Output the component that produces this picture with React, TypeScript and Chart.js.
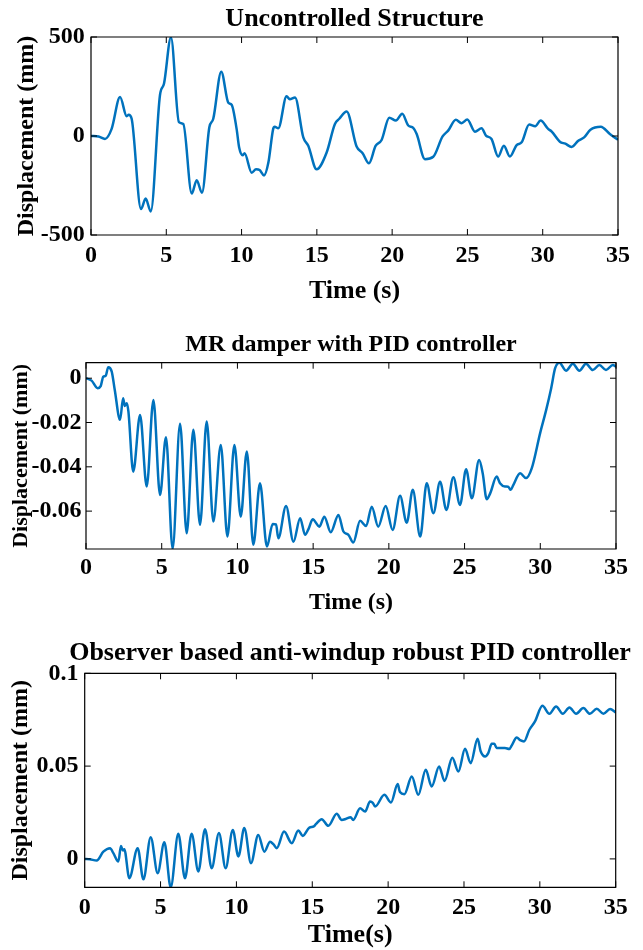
import React, { useEffect, useRef } from 'react';
import { Chart, registerables } from 'chart.js';

Chart.register(...registerables);

const FONT = "'Liberation Serif', 'Times New Roman', Times, serif";
const LINE_COLOR = '#0072BD';

// ---------- Data ----------
const X_TICKS = [0, 5, 10, 15, 20, 25, 30, 35];
const X_LABELS = ['0', '5', '10', '15', '20', '25', '30', '35'];

// Panel 1: Uncontrolled structure
const T1 = [0, 0.5, 0.93, 1.37, 1.93, 2.37, 2.5, 2.7, 3.32, 3.63, 3.97, 4.58, 4.85, 5.31, 5.84, 6.13, 6.69, 7.02, 7.37, 7.86, 8.12, 8.65, 9.12, 9.34, 9.67, 9.84, 10.07, 10.2, 10.67, 10.96, 11.2, 11.49, 11.78, 12.1, 12.2, 12.44, 12.99, 13.2, 13.55, 14.1, 14.43, 14.98, 15.65, 16.2, 16.49, 16.98, 17.64, 18.04, 18.46, 18.9, 19.3, 19.81, 20.25, 20.67, 21.07, 21.4, 21.63, 22.18, 22.73, 23.35, 23.72, 24.23, 24.61, 24.99, 25.5, 25.94, 26.23, 26.6, 27.04, 27.42, 27.82, 28.27, 28.6, 29.1, 29.5, 29.86, 30.36, 30.6, 31.14, 31.5, 31.92, 32.36, 32.75, 33.17, 33.86, 34.46, 35];
const D1 = [0, -3, -15, 36, 197, 100, 107, 87, -369, -316, -381, 206, 265, 498, 70, 61, -291, -223, -287, 44, 87, 325, 168, 158, 36, -58, -97, -87, -185, -168, -172, -199, -134, 36, 47, 39, 201, 185, 194, -7, -49, -168, -83, 61, 87, 124, -53, -87, -138, -50, -20, 92, 78, 112, 53, 41, 10, -117, -105, -2, 27, 82, 65, 83, 22, 39, 2, -15, -104, -49, -104, -46, -32, 58, 49, 78, 36, 22, -29, -39, -55, -24, -7, 32, 47, 10, -19];
const Y1_TICKS = [-500, 0, 500];
const Y1_LABELS = ['-500', '0', '500'];

// Panel 2: MR damper with PID controller
const T2 = [0, 0.37, 0.77, 0.97, 1.14, 1.3, 1.47, 1.7, 1.9, 2.25, 2.45, 2.56, 2.69, 2.8, 3.12, 3.57, 4.01, 4.45, 4.89, 5.28, 5.72, 6.21, 6.65, 7.09, 7.53, 7.97, 8.41, 8.9, 9.34, 9.8, 10.22, 10.62, 11.05, 11.49, 11.95, 12.33, 12.55, 12.7, 13.21, 13.7, 14.14, 14.47, 14.7, 14.97, 15.41, 15.74, 16.16, 16.67, 17.0, 17.33, 17.65, 18.1, 18.5, 18.87, 19.3, 19.79, 20.25, 20.74, 21.18, 21.58, 22.07, 22.5, 22.94, 23.38, 23.8, 24.26, 24.7, 25.1, 25.48, 25.96, 26.2, 26.46, 26.69, 27.12, 27.34, 27.67, 27.88, 28.05, 28.2, 28.67, 29.06, 29.44, 29.99, 30.39, 30.72, 30.98, 31.26, 31.7, 32.15, 32.58, 33.02, 33.47, 33.9, 34.34, 34.79, 35];
const D2 = [0, -0.0011, -0.0045, -0.0036, 0.0007, 0.0011, 0.005, 0.003, -0.0053, -0.0188, -0.009, -0.0125, -0.0113, -0.015, -0.0422, -0.0166, -0.0489, -0.0098, -0.0527, -0.0266, -0.0771, -0.0206, -0.07, -0.0233, -0.0662, -0.0196, -0.0647, -0.0301, -0.0715, -0.0301, -0.0625, -0.0331, -0.0752, -0.0474, -0.076, -0.0658, -0.066, -0.0722, -0.0577, -0.0738, -0.0632, -0.0707, -0.068, -0.0637, -0.067, -0.0625, -0.0695, -0.0617, -0.0692, -0.0707, -0.0742, -0.0644, -0.0667, -0.058, -0.067, -0.0577, -0.0685, -0.0531, -0.0652, -0.0504, -0.0715, -0.0474, -0.061, -0.0467, -0.0595, -0.0447, -0.0572, -0.0411, -0.0542, -0.0369, -0.043, -0.0546, -0.052, -0.0444, -0.0474, -0.0489, -0.049, -0.0504, -0.0485, -0.0429, -0.0451, -0.0406, -0.0248, -0.0143, -0.0045, 0.0045, 0.007, 0.0034, 0.0065, 0.0034, 0.0065, 0.0037, 0.006, 0.0037, 0.006, 0.0052];
const Y2_TICKS = [-0.06, -0.04, -0.02, 0];
const Y2_LABELS = ['-0.06', '-0.04', '-0.02', '0'];

// Panel 3: Observer based anti-windup robust PID controller
const T3 = [0, 0.34, 0.79, 1.23, 1.67, 1.89, 2.22, 2.39, 2.52, 2.61, 2.94, 3.49, 3.87, 4.35, 4.81, 5.25, 5.67, 6.17, 6.61, 7.05, 7.49, 7.93, 8.37, 8.85, 9.29, 9.76, 10.13, 10.52, 10.96, 11.44, 11.84, 12.22, 12.45, 12.66, 13.14, 13.65, 14.08, 14.37, 14.81, 15.1, 15.25, 15.62, 16.06, 16.61, 16.94, 17.2, 17.53, 17.7, 18.15, 18.48, 18.81, 18.99, 19.14, 19.75, 20.19, 20.63, 20.78, 21.07, 21.56, 21.99, 22.48, 22.87, 23.36, 23.72, 24.23, 24.63, 25.07, 25.44, 25.9, 26.1, 26.39, 26.6, 26.83, 27.0, 27.15, 27.7, 27.99, 28.14, 28.48, 28.7, 28.96, 29.31, 29.68, 30.17, 30.63, 31.07, 31.51, 31.95, 32.39, 32.87, 33.3, 33.75, 34.19, 34.63, 35];
const D3 = [0, -0.0002, -0.0009, 0.0039, 0.0058, 0.0031, -0.0014, 0.007, 0.0045, 0.0052, -0.0104, 0.0058, -0.011, 0.0117, -0.0077, 0.009, -0.0153, 0.0135, -0.0104, 0.0135, -0.0068, 0.016, -0.005, 0.0139, -0.005, 0.0156, 0.0013, 0.0166, -0.0023, 0.0129, 0.0039, 0.0093, 0.0078, 0.0058, 0.0147, 0.0085, 0.0153, 0.0124, 0.0169, 0.0175, 0.0189, 0.0214, 0.0178, 0.0243, 0.021, 0.0215, 0.0225, 0.021, 0.0273, 0.0255, 0.0309, 0.0302, 0.0282, 0.0345, 0.0304, 0.0403, 0.036, 0.0349, 0.0444, 0.0345, 0.048, 0.039, 0.0498, 0.042, 0.0545, 0.0471, 0.0593, 0.0516, 0.0647, 0.058, 0.0552, 0.057, 0.062, 0.062, 0.0598, 0.0598, 0.0592, 0.061, 0.0654, 0.064, 0.0633, 0.0696, 0.0741, 0.0825, 0.0782, 0.0821, 0.0782, 0.0816, 0.0782, 0.0813, 0.0782, 0.0809, 0.0782, 0.0807, 0.0789];
const Y3_TICKS = [0, 0.05, 0.1];
const Y3_LABELS = ['0', '0.05', '0.1'];

// ---------- Panel specs (layout only) ----------
type Spec = {
  top: number; height: number; plotRight: number;
  title: string; titleSize: number; titlePadTop: number; titlePadBottom: number;
  yWidth: number; xHeight: number;
  xTitle: string; xTitleSize: number; xTitlePadBottom: number; xTickPad: number;
  yTitleSize: number; yTitlePadTop: number; yTickPad: number; tickSize: number;
  yMin: number; yMax: number;
  t: number[]; d: number[]; yTicks: number[]; yLabels: string[];
};

const SPECS: Spec[] = [
  { top: 0, height: 310, plotRight: 618,
    title: 'Uncontrolled Structure', titleSize: 26, titlePadTop: 3.9, titlePadBottom: 1.9,
    yWidth: 91, xHeight: 75,
    xTitle: 'Time (s)', xTitleSize: 26, xTitlePadBottom: 2.9, xTickPad: 6.4,
    yTitleSize: 24, yTitlePadTop: 12.6, yTickPad: 6.3, tickSize: 24,
    yMin: -500, yMax: 500, t: T1, d: D1, yTicks: Y1_TICKS, yLabels: Y1_LABELS },
  { top: 310, height: 310, plotRight: 616,
    title: 'MR damper with PID controller', titleSize: 24, titlePadTop: 20.4, titlePadBottom: 3.5,
    yWidth: 86, xHeight: 71,
    xTitle: 'Time (s)', xTitleSize: 24, xTitlePadBottom: 2.8, xTickPad: 4.4,
    yTitleSize: 22, yTitlePadTop: 7.8, yTickPad: 4.5, tickSize: 24,
    yMin: -0.0771, yMax: 0.007, t: T2, d: D2, yTicks: Y2_TICKS, yLabels: Y2_LABELS },
  { top: 620, height: 335, plotRight: 615.7,
    title: 'Observer based anti-windup robust PID controller', titleSize: 26, titlePadTop: 17.3, titlePadBottom: 4.8,
    yWidth: 84.7, xHeight: 67.7,
    xTitle: 'Time(s)', xTitleSize: 26, xTitlePadBottom: 4.2, xTickPad: 6.1,
    yTitleSize: 24, yTitlePadTop: 6.6, yTickPad: 6.2, tickSize: 24,
    yMin: -0.0153, yMax: 0.1, t: T3, d: D3, yTicks: Y3_TICKS, yLabels: Y3_LABELS },
];

const framePlugin = {
  id: 'matlabFrame',
  afterDatasetsDraw(chart: any) {
    const { ctx, chartArea, scales } = chart;
    const { left, right, top, bottom } = chartArea;
    const L = 6;
    ctx.save();
    ctx.strokeStyle = '#000';
    ctx.lineWidth = 1.2;
    ctx.beginPath();
    ctx.rect(left, top, right - left, bottom - top);
    ctx.stroke();
    ctx.lineWidth = 1;
    ctx.beginPath();
    scales.x.ticks.forEach((tk: any) => {
      const px = scales.x.getPixelForValue(tk.value);
      ctx.moveTo(px, bottom); ctx.lineTo(px, bottom - L);
      ctx.moveTo(px, top); ctx.lineTo(px, top + L);
    });
    scales.y.ticks.forEach((tk: any) => {
      const py = scales.y.getPixelForValue(tk.value);
      ctx.moveTo(left, py); ctx.lineTo(left + L, py);
      ctx.moveTo(right, py); ctx.lineTo(right - L, py);
    });
    ctx.stroke();
    ctx.restore();
  },
};

function Panel({ spec }: { spec: Spec }) {
  const ref = useRef<HTMLCanvasElement | null>(null);
  // canvas extends to the right so that the full-width title is centred over the plot
  const canvasWidth = Math.round(spec.plotRight + spec.yWidth);
  useEffect(() => {
    if (!ref.current) return;
    Chart.defaults.color = '#000';
    Chart.defaults.font.family = FONT;
    const data = spec.t.map((t, i) => ({ x: t, y: spec.d[i] }));
    const rightW = canvasWidth - spec.plotRight;
    const chart = new Chart(ref.current, {
      type: 'line',
      data: {
        datasets: [{
          data,
          xAxisID: 'x',
          yAxisID: 'y',
          borderColor: LINE_COLOR,
          borderWidth: 2.5,
          pointRadius: 0,
          fill: false,
          cubicInterpolationMode: 'monotone',
        }],
      },
      options: {
        animation: false,
        responsive: false,
        devicePixelRatio: 1,
        events: [],
        layout: { padding: 0 },
        plugins: {
          legend: { display: false },
          tooltip: { enabled: false },
          title: {
            display: true,
            text: spec.title,
            color: '#000',
            font: { family: FONT, size: spec.titleSize, weight: 'bold' },
            padding: { top: spec.titlePadTop, bottom: spec.titlePadBottom },
          },
        },
        scales: {
          x: {
            type: 'linear',
            position: 'bottom',
            min: 0,
            max: 35,
            grid: { display: false, drawTicks: false },
            border: { display: false },
            afterBuildTicks: (s: any) => { s.ticks = X_TICKS.map((v) => ({ value: v })); },
            afterFit: (s: any) => { s.height = spec.xHeight; s.paddingLeft = 0; s.paddingRight = 0; s.paddingTop = 0; s.paddingBottom = 0; },
            ticks: {
              autoSkip: false,
              maxRotation: 0,
              padding: spec.xTickPad,
              color: '#000',
              font: { family: FONT, size: spec.tickSize, weight: 'bold' },
              callback: (_v: any, i: number) => X_LABELS[i],
            },
            title: {
              display: true,
              text: spec.xTitle,
              color: '#000',
              font: { family: FONT, size: spec.xTitleSize, weight: 'bold' },
              padding: { top: 0, bottom: spec.xTitlePadBottom },
            },
          },
          y: {
            type: 'linear',
            position: 'left',
            min: spec.yMin,
            max: spec.yMax,
            grid: { display: false, drawTicks: false },
            border: { display: false },
            afterBuildTicks: (s: any) => { s.ticks = spec.yTicks.map((v) => ({ value: v })); },
            afterFit: (s: any) => { s.width = spec.yWidth; s.paddingTop = 0; s.paddingBottom = 0; s.paddingLeft = 0; s.paddingRight = 0; },
            ticks: {
              autoSkip: false,
              padding: spec.yTickPad,
              color: '#000',
              font: { family: FONT, size: spec.tickSize, weight: 'bold' },
              callback: (_v: any, i: number) => spec.yLabels[i],
            },
            title: {
              display: true,
              text: 'Displacement (mm)',
              color: '#000',
              font: { family: FONT, size: spec.yTitleSize, weight: 'bold' },
              padding: { top: spec.yTitlePadTop, bottom: 0 },
            },
          },
          yR: {
            type: 'linear',
            position: 'right',
            min: spec.yMin,
            max: spec.yMax,
            display: true,
            grid: { display: false, drawTicks: false },
            border: { display: false },
            ticks: { display: false },
            afterFit: (s: any) => { s.width = rightW; s.paddingTop = 0; s.paddingBottom = 0; s.paddingLeft = 0; s.paddingRight = 0; },
          },
        },
      },
      plugins: [framePlugin],
    } as any);
    return () => chart.destroy();
  }, [spec, canvasWidth]);
  return (
    <canvas
      ref={ref}
      width={canvasWidth}
      height={spec.height}
      style={{ position: 'absolute', left: 0, top: spec.top, width: canvasWidth, height: spec.height, display: 'block' }}
    />
  );
}

export default function App() {
  return (
    <div style={{ position: 'absolute', left: 0, top: 0, width: 643, height: 950, overflow: 'hidden', background: '#fff' }}>
      {SPECS.map((s, i) => (
        <Panel key={i} spec={s} />
      ))}
    </div>
  );
}
